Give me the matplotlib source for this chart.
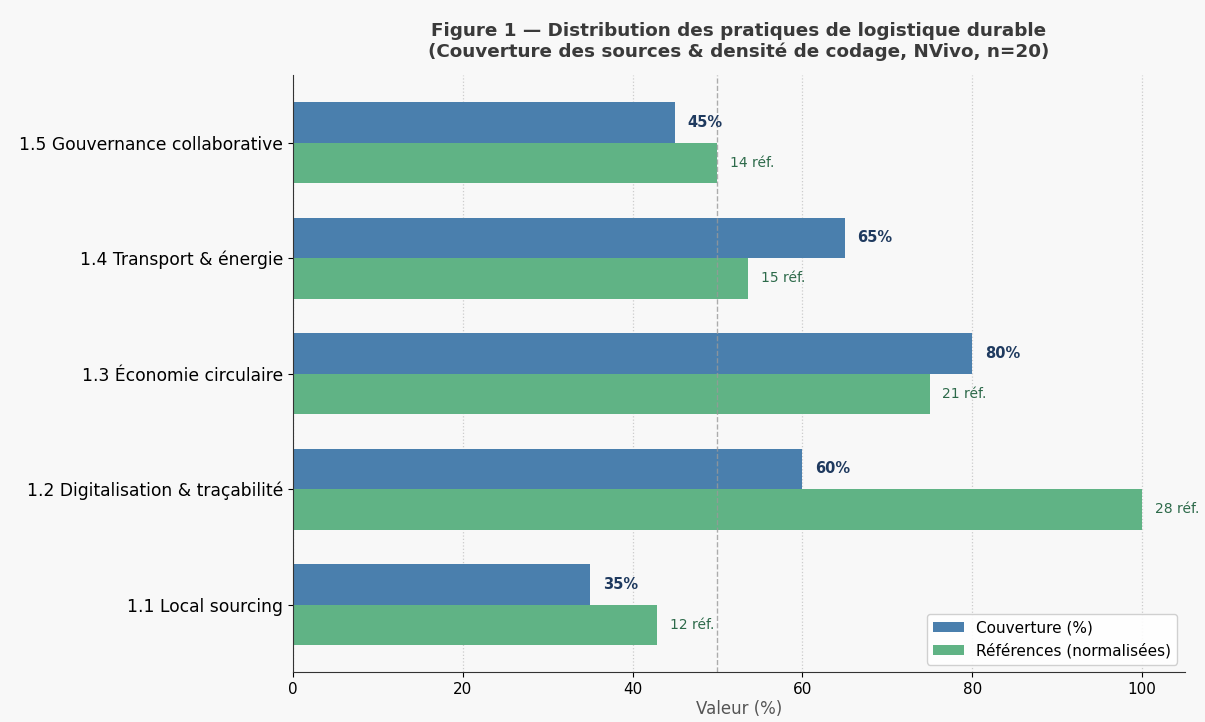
import numpy as np
import matplotlib.pyplot as plt

plt.rcParams['font.family'] = ['DejaVu Sans']

# themes coded in NVivo (n=20 sources)
themes = ['1.1 Local sourcing', '1.2 Digitalisation & traçabilité',
          '1.3 Économie circulaire', '1.4 Transport & énergie',
          '1.5 Gouvernance collaborative']
coverage = [35, 60, 80, 65, 45]   # % of sources
refs = [12, 28, 21, 15, 14]       # coded references

refs_norm = [r / max(refs) * 100 for r in refs]

bg = '#f8f8f8'
fig, ax = plt.subplots(figsize=(12.05, 7.22), dpi=100, facecolor=bg)
ax.set_facecolor(bg)

y = np.arange(len(themes))
h = 0.35
b1 = ax.barh(y + h / 2, coverage, h, color='#4a7fad', label='Couverture (%)')
b2 = ax.barh(y - h / 2, refs_norm, h, color='#60b385', label='Références (normalisées)')

for i in range(len(themes)):
    ax.text(coverage[i] + 1.5, y[i] + h / 2, '%d%%' % coverage[i], va='center',
            fontsize=10.5, fontweight='bold', color='#1f3a5f')
    ax.text(refs_norm[i] + 1.5, y[i] - h / 2, '%d réf.' % refs[i], va='center',
            fontsize=10, color='#2d6a4a')

ax.axvline(50, color='#999999', linestyle='--', linewidth=1, alpha=0.8)

ax.set_yticks(y)
ax.set_yticklabels(themes, fontsize=12.3)
ax.tick_params(axis='x', labelsize=11)
ax.set_xlim(0, 105)
ax.set_xlabel('Valeur (%)', fontsize=12, color='#555555', labelpad=2)
ax.xaxis.grid(True, linestyle=':', color='#cccccc', linewidth=0.9)
ax.set_axisbelow(True)
for s in ['top', 'right']:
    ax.spines[s].set_visible(False)
ax.spines['left'].set_color('#333333')
ax.spines['bottom'].set_color('#333333')

ax.set_title('Figure 1 — Distribution des pratiques de logistique durable\n'
             '(Couverture des sources & densité de codage, NVivo, n=20)',
             fontsize=13.2, fontweight='bold', color='#3a3a3a', pad=13)
ax.legend(loc='lower right', fontsize=11, facecolor='white', framealpha=0.9)

plt.subplots_adjust(left=0.243, right=0.983, top=0.896, bottom=0.069)
plt.savefig('out.png', facecolor=bg)
